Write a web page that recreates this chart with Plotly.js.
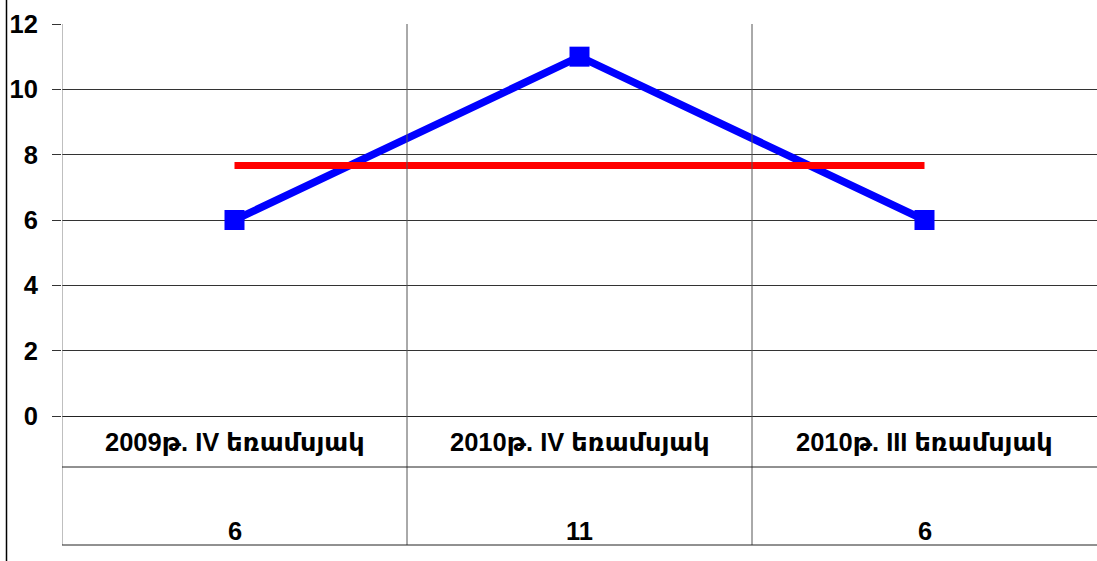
<!DOCTYPE html>
<html>
<head>
<meta charset="utf-8">
<script src="https://cdn.plot.ly/plotly-3.0.1.min.js"></script>
<style>html,body{margin:0;padding:0;background:#fff;}#chart{width:1097px;height:561px;}</style>
</head>
<body>
<div id="chart"></div>
<script>
var categories = ["2009թ. IV եռամսյակ", "2010թ. IV եռամսյակ", "2010թ. III եռամսյակ"];
var values = [6, 11, 6];
var average = [7.67, 7.67, 7.67];
var yTicks = [0, 2, 4, 6, 8, 10, 12];

var xIdx = categories.map(function(_, i){ return i; });
var FONT = "Liberation Sans, Arial, DejaVu Sans, sans-serif";
var FS = 25.5;

var traces = [
  {x: xIdx, y: values, type: 'scatter', mode: 'lines+markers',
   line: {color: '#0000FF', width: 7.5},
   marker: {symbol: 'square', size: 20, color: '#0000FF'},
   hoverinfo: 'skip', showlegend: false},
  {x: xIdx, y: average, type: 'scatter', mode: 'lines',
   line: {color: '#FF0000', width: 7},
   hoverinfo: 'skip', showlegend: false}
];

var plotH = 392;
var rowLine = -(467 - 416) / plotH;
var tableBottom = -(545 - 416) / plotH;

var shapes = [];
var lineCol = '#555555';
[-0.5, 0.5, 1.5].forEach(function(xv, k){
  shapes.push({type: 'line', xref: 'x', yref: 'paper', x0: xv, x1: xv, y0: tableBottom, y1: 1,
    line: {color: k === 0 ? '#808080' : lineCol, width: 1}});
});
[rowLine, tableBottom].forEach(function(yv){
  shapes.push({type: 'line', xref: 'x', yref: 'paper', x0: -0.5, x1: 2.5, y0: yv, y1: yv,
    line: {color: '#222222', width: 1}});
});
shapes.push({type: 'line', xref: 'paper', yref: 'paper', x0: (6.5 - 62) / 1035, x1: (6.5 - 62) / 1035,
  y0: -(561 - 416) / plotH, y1: 1 + 24 / plotH, line: {color: '#000000', width: 1.5}});

var annotations = [];
categories.forEach(function(c, i){
  annotations.push({x: i, xref: 'x', y: -(442 - 416) / plotH, yref: 'paper', text: c,
    showarrow: false, xanchor: 'center', yanchor: 'middle', font: {family: FONT, size: FS, color: '#000', weight: 'bold'}});
  annotations.push({x: i, xref: 'x', y: -(531 - 416) / plotH, yref: 'paper', text: String(values[i]),
    showarrow: false, xanchor: 'center', yanchor: 'middle', font: {family: FONT, size: FS, color: '#000', weight: 'bold'}});
});

var layout = {
  width: 1097, height: 561,
  margin: {l: 62, r: 0, t: 24, b: 145, pad: 0},
  paper_bgcolor: '#ffffff', plot_bgcolor: '#ffffff',
  showlegend: false,
  xaxis: {range: [-0.5, 2.5], showgrid: false, zeroline: false, showticklabels: false,
    ticks: '', showline: false, fixedrange: true},
  yaxis: {range: [0, 12], tickvals: yTicks, ticktext: yTicks.map(String),
    showgrid: true, gridcolor: '#333333', gridwidth: 1,
    zeroline: true, zerolinecolor: '#222222', zerolinewidth: 1,
    showline: false, ticks: 'outside', ticklen: 9, tickcolor: '#333333', tickwidth: 1,
    ticklabelstandoff: 9,
    tickfont: {family: FONT, size: FS, color: '#000', weight: 'bold'}, fixedrange: true},
  shapes: shapes,
  annotations: annotations
};

Plotly.newPlot('chart', traces, layout, {displayModeBar: false, staticPlot: true});
</script>
</body>
</html>
